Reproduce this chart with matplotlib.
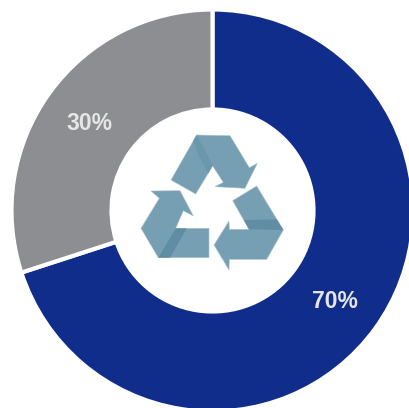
import matplotlib
matplotlib.use("Agg")
import matplotlib.pyplot as plt
from matplotlib.patches import Polygon

shares = [70, 30]
share_labels = ["70%", "30%"]
ring_colors = ["#102d8c", "#8d8e91"]

W, H = 410, 408
CX, CY, R_OUT, R_IN = 212.5, 210.5, 201, 101

# Recycling symbol outlines, in pixels from the top-left corner of the canvas
ICON_ORIGIN = (130, 120)
ICON_SCALE = 1 / 3
top_arrow = [(200, 45), (300, 47), (358, 143), (382, 130), (345, 205), (255, 200),
             (280, 187), (248, 138), (197, 222), (123, 180)]
top_fold = [(200, 45), (248, 135), (235, 160), (205, 105), (190, 62)]
left_arrow = [(63, 213), (150, 212), (190, 288), (160, 272), (137, 325), (237, 325),
              (237, 413), (85, 413), (33, 325), (88, 235)]
left_fold = [(137, 325), (170, 325), (120, 413), (85, 413)]
right_arrow = [(380, 198), (460, 330), (410, 418), (298, 418), (297, 450), (252, 375),
               (297, 303), (298, 328), (357, 328), (308, 242)]
right_fold = [(342, 300), (440, 298), (460, 330), (357, 328)]


def to_canvas(points):
    return [(ICON_ORIGIN[0] + x * ICON_SCALE, H - (ICON_ORIGIN[1] + y * ICON_SCALE))
            for x, y in points]


fig = plt.figure(figsize=(W / 100, H / 100), dpi=100, facecolor="white")
ax = fig.add_axes([0, 0, 1, 1])

ax.pie(shares, colors=ring_colors, startangle=90, counterclock=False,
       center=(CX, H - CY), radius=R_OUT,
       wedgeprops=dict(width=R_OUT - R_IN, edgecolor="white", linewidth=3))

ax.set_xlim(0, W)
ax.set_ylim(0, H)
ax.set_aspect("equal")
ax.axis("off")

for shape in (top_arrow, left_arrow, right_arrow):
    ax.add_patch(Polygon(to_canvas(shape), closed=True, facecolor="#779fb3",
                         edgecolor="#a9c4d0", linewidth=0.4, zorder=3))
for fold, shade in ((top_fold, "#6b97ac"), (left_fold, "#5f8da3"), (right_fold, "#5f8da3")):
    ax.add_patch(Polygon(to_canvas(fold), closed=True, facecolor=shade,
                         edgecolor="none", zorder=4))

# Percentage labels sit on their ring segments
label_positions = [(335, 302), (89.5, 123)]
for text, (x, y) in zip(share_labels, label_positions):
    ax.text(x, H - y, text, color="#e6e6e6", fontsize=16.5, fontweight="bold",
            family="Liberation Sans", ha="center", va="center", zorder=5)

fig.savefig("out.png", dpi=100, facecolor="white")
